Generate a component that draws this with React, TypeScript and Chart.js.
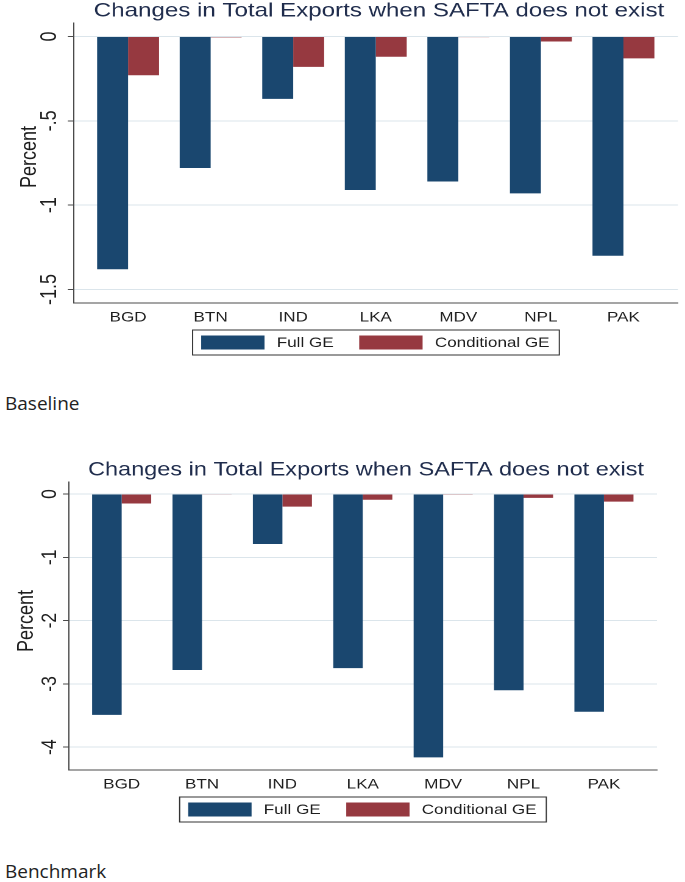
import { useEffect, useRef } from "react"
import { Chart, registerables } from "chart.js"

Chart.register(...registerables)

const categories = ["BGD", "BTN", "IND", "LKA", "MDV", "NPL", "PAK"]
const seriesNames = ["Full GE", "Conditional GE"]
const chartTitle = "Changes in Total Exports when SAFTA does not exist"
const yAxisTitle = "Percent"

// Baseline panel
const baselineFull = [-1.38, -0.78, -0.37, -0.91, -0.86, -0.93, -1.3]
const baselineCond = [-0.23, -0.005, -0.18, -0.12, -0.004, -0.03, -0.13]
const baselineTicks = [0, -0.5, -1, -1.5]
const baselineTickLabels = ["0", "-.5", "-1", "-1.5"]

// Benchmark panel
const benchmarkFull = [-3.49, -2.78, -0.79, -2.75, -4.16, -3.1, -3.44]
const benchmarkCond = [-0.15, -0.005, -0.2, -0.09, -0.004, -0.06, -0.12]
const benchmarkTicks = [0, -1, -2, -3, -4]
const benchmarkTickLabels = ["0", "-1", "-2", "-3", "-4"]

const FONT = '"Liberation Sans", Arial, sans-serif'
const BLUE = "#1a476f"
const RED = "#963940"
const GRID = "#dbe5eb"
const AXIS = "#4a4a4a"
const TEXT = "#1e1e1e"
const TITLE = "#1f2c4c"

// the source picture is stretched sideways, so each panel is drawn narrower and scaled
const W = 562
const STRETCH = 685 / W
const X_AXIS_H = 24

type Geom = {
  top: number
  height: number
  plotLeft: number
  plotRight: number
  plotTop: number
  plotBottom: number
  yMin: number
  yMax: number
  barFrac: number
  titleSize: number
  tickSize: number
  tickLabelX: number
  axisTitleX: number
  axisTitleY: number
}

const baselineGeom: Geom = {
  top: 0,
  height: 365,
  plotLeft: 60.7,
  plotRight: 556.2,
  plotTop: 23,
  plotBottom: 303,
  yMin: -1.58,
  yMax: 0.08,
  barFrac: 0.75,
  titleSize: 19.8,
  tickSize: 18,
  tickLabelX: 41,
  axisTitleX: 24.6,
  axisTitleY: 157,
}

const benchmarkGeom: Geom = {
  top: 450,
  height: 380,
  plotLeft: 56.6,
  plotRight: 539,
  plotTop: 32,
  plotBottom: 320,
  yMin: -4.36,
  yMax: 0.19,
  barFrac: 0.735,
  titleSize: 19.3,
  tickSize: 17.5,
  tickLabelX: 41,
  axisTitleX: 22.1,
  axisTitleY: 171,
}

function SaftaPanel({
  full,
  cond,
  ticks,
  tickLabels,
  g,
}: {
  full: number[]
  cond: number[]
  ticks: number[]
  tickLabels: string[]
  g: Geom
}) {
  const canvasRef = useRef<HTMLCanvasElement>(null)

  useEffect(() => {
    if (!canvasRef.current) return

    const overlay = {
      id: "stataOverlay",
      afterDraw(chart: any) {
        const { ctx, chartArea, scales } = chart
        const midX = (chartArea.left + chartArea.right) / 2
        ctx.save()

        // title
        ctx.font = `${g.titleSize}px ${FONT}`
        ctx.fillStyle = TITLE
        ctx.textAlign = "center"
        ctx.textBaseline = "alphabetic"
        ctx.fillText(chartTitle, midX + 2.5, chartArea.top - 6.5)

        // vertical y tick labels
        ctx.font = `${g.tickSize}px ${FONT}`
        ctx.fillStyle = TEXT
        ctx.textBaseline = "middle"
        ticks.forEach((v, i) => {
          const py = scales.y.getPixelForValue(v)
          ctx.save()
          ctx.translate(g.tickLabelX, py)
          ctx.rotate(-Math.PI / 2)
          ctx.fillText(tickLabels[i], 0, 0)
          ctx.restore()
        })

        // axis title
        ctx.font = `18px ${FONT}`
        ctx.save()
        ctx.translate(g.axisTitleX, g.axisTitleY)
        ctx.rotate(-Math.PI / 2)
        ctx.fillText(yAxisTitle, 0, 0)
        ctx.restore()

        // legend with frame
        ctx.font = `14px ${FONT}`
        const w1 = ctx.measureText(seriesNames[0]).width
        const w2 = ctx.measureText(seriesNames[1]).width
        const sw = 52
        const boxW = 7 + sw + 10 + w1 + 21 + sw + 10 + w2 + 8
        const boxH = 25
        const bx = midX - boxW / 2
        const by = chartArea.bottom + 27
        ctx.strokeStyle = "#333"
        ctx.lineWidth = 1
        ctx.strokeRect(bx, by, boxW, boxH)
        const cy = by + boxH / 2
        let x = bx + 7
        ctx.fillStyle = BLUE
        ctx.fillRect(x, cy - 7, sw, 14)
        x += sw + 10
        ctx.fillStyle = TEXT
        ctx.textAlign = "left"
        ctx.fillText(seriesNames[0], x, cy + 0.5)
        x += w1 + 21
        ctx.fillStyle = RED
        ctx.fillRect(x, cy - 7, sw, 14)
        x += sw + 10
        ctx.fillStyle = TEXT
        ctx.fillText(seriesNames[1], x, cy + 0.5)

        ctx.restore()
      },
    }

    const chart = new Chart(canvasRef.current, {
      type: "bar",
      data: {
        datasets: [
          {
            label: seriesNames[0],
            data: categories.map((_, i) => ({ x: i, y: full[i] })),
            backgroundColor: BLUE,
            barPercentage: 1,
            categoryPercentage: g.barFrac,
          },
          {
            label: seriesNames[1],
            data: categories.map((_, i) => ({ x: i, y: cond[i] })),
            backgroundColor: RED,
            barPercentage: 1,
            categoryPercentage: g.barFrac,
          },
        ],
      },
      options: {
        animation: false,
        responsive: true,
        maintainAspectRatio: false,
        devicePixelRatio: 2,
        layout: {
          padding: {
            top: g.plotTop,
            right: W - g.plotRight,
            bottom: g.height - g.plotBottom - X_AXIS_H,
            left: 0,
          },
        },
        plugins: {
          legend: { display: false },
          title: { display: false },
          tooltip: { enabled: false },
        },
        scales: {
          x: {
            type: "linear",
            min: -0.655,
            max: 6.66,
            bounds: "data",
            offset: false,
            afterBuildTicks: (s: any) => {
              s.ticks = categories.map((_, i) => ({ value: i }))
            },
            afterFit: (s: any) => {
              s.height = X_AXIS_H
            },
            ticks: {
              callback: (v: any) => categories[v as number] ?? "",
              font: { family: FONT, size: 14 },
              color: TEXT,
              padding: 6,
              maxRotation: 0,
              autoSkip: false,
            },
            grid: { display: false, drawTicks: false, tickLength: 0 },
            border: { display: true, color: AXIS, width: 1 },
          },
          y: {
            type: "linear",
            min: g.yMin,
            max: g.yMax,
            bounds: "data",
            afterBuildTicks: (s: any) => {
              s.ticks = ticks.map((v) => ({ value: v }))
            },
            afterFit: (s: any) => {
              s.width = g.plotLeft
            },
            ticks: { display: false },
            grid: { color: GRID, tickColor: AXIS, tickLength: 5, drawTicks: true, lineWidth: 1 },
            border: { display: true, color: AXIS, width: 1 },
          },
        },
      } as any,
      plugins: [overlay],
    })

    return () => chart.destroy()
  }, [])

  return (
    <div
      style={{
        position: "absolute",
        left: 0,
        top: g.top,
        width: W,
        height: g.height,
        transform: `scaleX(${STRETCH})`,
        transformOrigin: "0 0",
      }}
    >
      <canvas ref={canvasRef}></canvas>
    </div>
  )
}

const captionStyle = {
  position: "absolute" as const,
  left: 5,
  fontFamily: '"Open Sans", "Noto Sans", sans-serif',
  fontSize: 19,
  lineHeight: "26px",
  color: "#222",
}

export default function App() {
  return (
    <div
      style={{
        position: "absolute",
        left: 0,
        top: 0,
        width: 685,
        height: 882,
        background: "#fff",
        overflow: "hidden",
      }}
    >
      <SaftaPanel
        full={baselineFull}
        cond={baselineCond}
        ticks={baselineTicks}
        tickLabels={baselineTickLabels}
        g={baselineGeom}
      />
      <div style={{ ...captionStyle, top: 390 }}>Baseline</div>
      <SaftaPanel
        full={benchmarkFull}
        cond={benchmarkCond}
        ticks={benchmarkTicks}
        tickLabels={benchmarkTickLabels}
        g={benchmarkGeom}
      />
      <div style={{ ...captionStyle, top: 858 }}>Benchmark</div>
    </div>
  )
}
